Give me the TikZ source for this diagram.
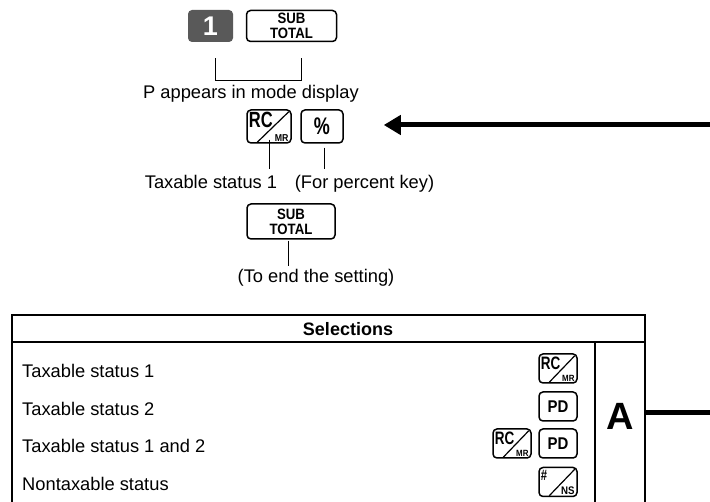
\documentclass[tikz,border=0pt]{standalone}
\usepackage{fontspec}
\setmainfont{Liberation Sans}
\newfontfamily\keyfont[FakeStretch=0.88]{Liberation Sans}
\newfontfamily\condfont[FakeStretch=0.75]{Liberation Sans}
\usetikzlibrary{arrows.meta,positioning,calc}
\definecolor{keyGray}{RGB}{89,89,89}
\tikzset{
  key/.style={draw, rounded corners=4pt, line width=1.5pt, align=center, inner sep=0pt, font=\keyfont\bfseries\fontsize{15}{15}\selectfont},
  tkey/.style={key, minimum width=38pt, minimum height=29pt, font=\keyfont\bfseries\fontsize{17}{17}\selectfont},
  numkey/.style={fill=keyGray, rounded corners=4pt, inner sep=0pt, text=white, font=\bfseries\fontsize{27}{27}\selectfont},
  keylbl/.style={inner sep=0pt},
  slashln/.style={line width=1.2pt},
  lead/.style={line width=1pt},
  note/.style={inner sep=0pt, font=\fontsize{18.3}{22}\selectfont},
  rowtxt/.style={note, anchor=base west},
  bar/.style={line width=5pt},
  frame/.style={line width=2pt}
}
% upper text, slash, small lower text on a key node
\newcommand{\slashkey}[5]{%
  \node[keylbl, anchor=north west, font=\condfont\bfseries\fontsize{#4}{#4}\selectfont] at ([shift={(2.5,3)}]#1.north west) {#2};
  \draw[slashln] ([shift={(11,-1.5)}]#1.south west) -- ([shift={(-3,2.5)}]#1.north east);
  \node[keylbl, anchor=south east, font=\keyfont\bfseries\fontsize{#5}{#5}\selectfont] at ([shift={(-3,-2.5)}]#1.south east) {#3};
}

\begin{document}
\begin{tikzpicture}[x=1pt,y=-1pt]
  \useasboundingbox (0,0) rectangle (710,502);
  \clip (0,0) rectangle (710,502);

  % key sequence
  \node[numkey, minimum width=45pt, minimum height=32pt] (one) at (210.5,26) {1};
  \node[key, minimum width=90pt, minimum height=31pt] (sub1) at (291.5,26) {SUB\\TOTAL};
  \draw[lead] ([shift={(4.5,16)}]one.south) |- ([shift={(9.5,38)}]sub1.south) -- ([shift={(9.5,16)}]sub1.south);
  \node[note] (pmode) at (251,94) {P appears in mode display};

  \node[key, minimum width=44pt, minimum height=33pt] (rc) at (269,126.5) {};
  \slashkey{rc}{RC}{MR}{22}{10}
  \node[key, minimum width=42pt, minimum height=33pt, font=\condfont\bfseries\fontsize{24}{24}\selectfont] (pct) at (322,126.5) {\%};
  \node[note, anchor=base] (tax1) at (211,189) {Taxable status 1};
  \node[note, anchor=base] (forpct) at (364.5,189) {(For percent key)};
  \draw[lead] ([yshift=4]rc.south) -- ($(rc.south |- tax1.north)+(0,-7)$);
  \draw[lead] ([shift={(2,4)}]pct.south) -- ($(pct.south |- tax1.north)+(2,-7)$);

  \coordinate (pin) at (712,125);
  \draw[bar, -{Triangle[length=17pt,width=19pt]}] (pin) -- ([shift={(40,-1.5)}]pct.east);

  \node[key, minimum width=88pt, minimum height=35pt] (sub2) at (291,221.5) {SUB\\TOTAL};
  \node[note, anchor=base] (endset) at (316,283) {(To end the setting)};
  \draw[lead] ([shift={(-3,1)}]sub2.south) -- ++(0,25);

  % selections table
  \draw[frame] (12,315) rectangle (645,530);
  \draw[frame] (12,342) -- (645,342);
  \draw[frame] (595,342) -- (595,530);
  \node[inner sep=0pt, font=\bfseries\fontsize{18}{18}\selectfont] (sel) at (348,329) {Selections};

  \node[rowtxt] (r1) at (22,378) {Taxable status 1};
  \node[rowtxt] (r2) at (22,416) {Taxable status 2};
  \node[rowtxt] (r3) at (22,453) {Taxable status 1 and 2};
  \node[rowtxt] (r4) at (22,491) {Nontaxable status};

  \node[tkey] (rcA) at (558,368.5) {};
  \slashkey{rcA}{RC}{MR}{18}{9}
  \node[tkey] (pdA) at (558,406.5) {PD};
  \node[tkey] (rcB) at (512,443.5) {};
  \slashkey{rcB}{RC}{MR}{18}{9}
  \node[tkey] (pdB) at (558,443.5) {PD};
  \node[tkey] (nsA) at (558,482) {};
  \slashkey{nsA}{\#}{NS}{15}{11}

  \node[minimum width=50pt, inner sep=0pt, font=\bfseries\fontsize{38}{38}\selectfont] (acell) at (620,416.5) {A};
  \coordinate (aend) at (712,413);
  \draw[bar] (acell.east |- aend) -- (aend);
\end{tikzpicture}
\end{document}
